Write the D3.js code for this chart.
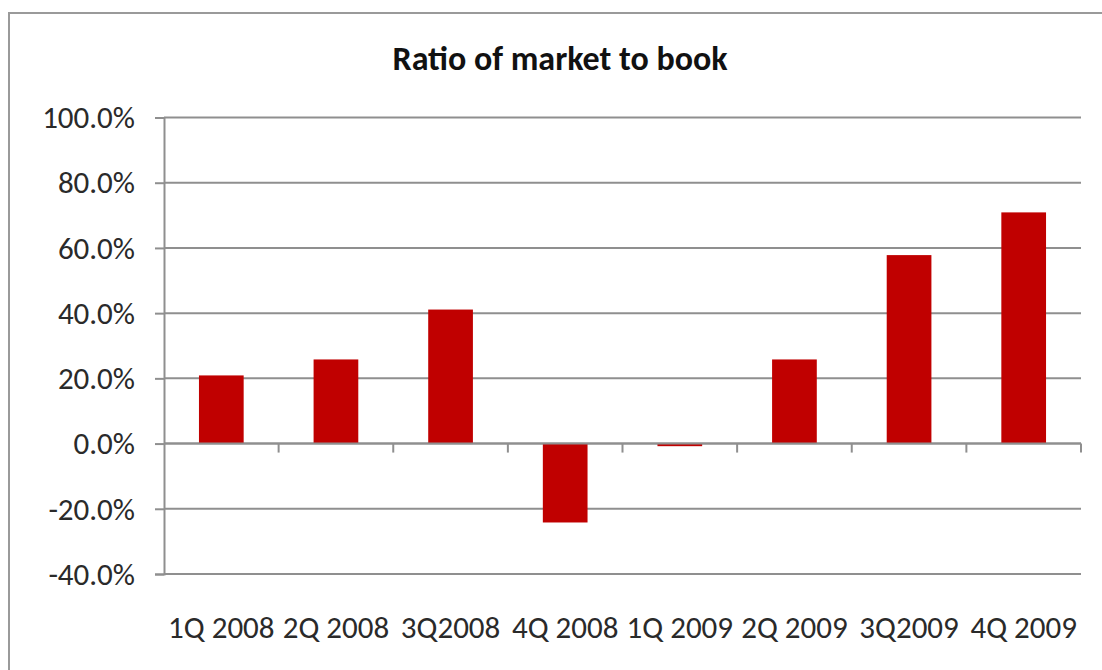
<!DOCTYPE html>
<html>
<head>
<meta charset="utf-8">
<script src="https://cdn.jsdelivr.net/npm/d3@7"></script>
<style>
  html, body { margin: 0; padding: 0; background: #fff; }
  svg { display: block; }
  text { font-family: Carlito, Lato, "Open Sans", sans-serif; }
</style>
</head>
<body>
<svg id="chart" width="1102" height="670"></svg>
<script>
const title = "Ratio of market to book";
const categories = ["1Q 2008", "2Q 2008", "3Q2008", "4Q 2008", "1Q 2009", "2Q 2009", "3Q2009", "4Q 2009"];
const values = [0.209, 0.258, 0.411, -0.242, -0.008, 0.258, 0.578, 0.709];
const yTicks = [-0.4, -0.2, 0, 0.2, 0.4, 0.6, 0.8, 1.0];

(function () {
const svg = d3.select("#chart");
const W = 1102, H = 670;
const pLeft = 164, pRight = 1081, pTop = 117.5, pBottom = 574;

svg.append("rect").attr("x", 0).attr("y", 0).attr("width", W).attr("height", H).attr("fill", "#fff");
// outer chart border
svg.append("rect")
  .attr("x", 9).attr("y", 13).attr("width", W + 20).attr("height", H + 20)
  .attr("fill", "none").attr("stroke", "#9a9a9a").attr("stroke-width", 2);

const x = d3.scaleBand().domain(categories).range([pLeft, pRight]).paddingInner(0.61).paddingOuter(0.305);
const y = d3.scaleLinear().domain([-0.4, 1.0]).range([pBottom, pTop]);

// gridlines
svg.append("g").selectAll("line").data(yTicks).join("line")
  .attr("x1", pLeft).attr("x2", pRight)
  .attr("y1", d => y(d)).attr("y2", d => y(d))
  .attr("stroke", "#8f8f8f").attr("stroke-width", 2);

// y axis
const fmt = d => d3.format(".1%")(d).replace("−", "-");
const yAxis = d3.axisLeft(y).tickValues(yTicks).tickFormat(fmt).tickSize(9).tickPadding(20);
const gy = svg.append("g").attr("transform", `translate(${pLeft},0)`).call(yAxis);
gy.select(".domain").attr("stroke", "#8f8f8f").attr("stroke-width", 2);
gy.selectAll(".tick line").attr("stroke", "#8f8f8f").attr("stroke-width", 2);
gy.selectAll(".tick text").attr("font-size", 31).attr("fill", "#2a2a2a").attr("dy", "0.33em")
  .style("font-family", "Carlito, Lato, 'Open Sans', sans-serif");

// bars
svg.append("g").selectAll("rect").data(values).join("rect")
  .attr("x", (d, i) => x(categories[i]))
  .attr("width", x.bandwidth())
  .attr("y", d => y(Math.max(0, d)))
  .attr("height", d => Math.abs(y(d) - y(0)))
  .attr("fill", "#c00000");

// x axis at zero
const bounds = d3.range(categories.length + 1).map(i => pLeft + i * (pRight - pLeft) / categories.length);
const gx = svg.append("g");
gx.append("line").attr("x1", pLeft).attr("x2", pRight).attr("y1", y(0)).attr("y2", y(0))
  .attr("stroke", "#8f8f8f").attr("stroke-width", 2);
gx.selectAll("line.tk").data(bounds.slice(1)).join("line").attr("class", "tk")
  .attr("x1", d => d).attr("x2", d => d)
  .attr("y1", y(0)).attr("y2", y(0) + 9)
  .attr("stroke", "#8f8f8f").attr("stroke-width", 2);

// category labels at bottom
svg.append("g").selectAll("text").data(categories).join("text")
  .attr("x", d => x(d) + x.bandwidth() / 2)
  .attr("y", 638)
  .attr("text-anchor", "middle")
  .attr("font-size", 31).attr("fill", "#2a2a2a")
  .text(d => d);

// title
svg.append("text").attr("x", 560).attr("y", 70).attr("text-anchor", "middle")
  .attr("font-size", 34).attr("font-weight", "bold").attr("fill", "#111")
  .text(title);
})();
</script>
</body>
</html>
